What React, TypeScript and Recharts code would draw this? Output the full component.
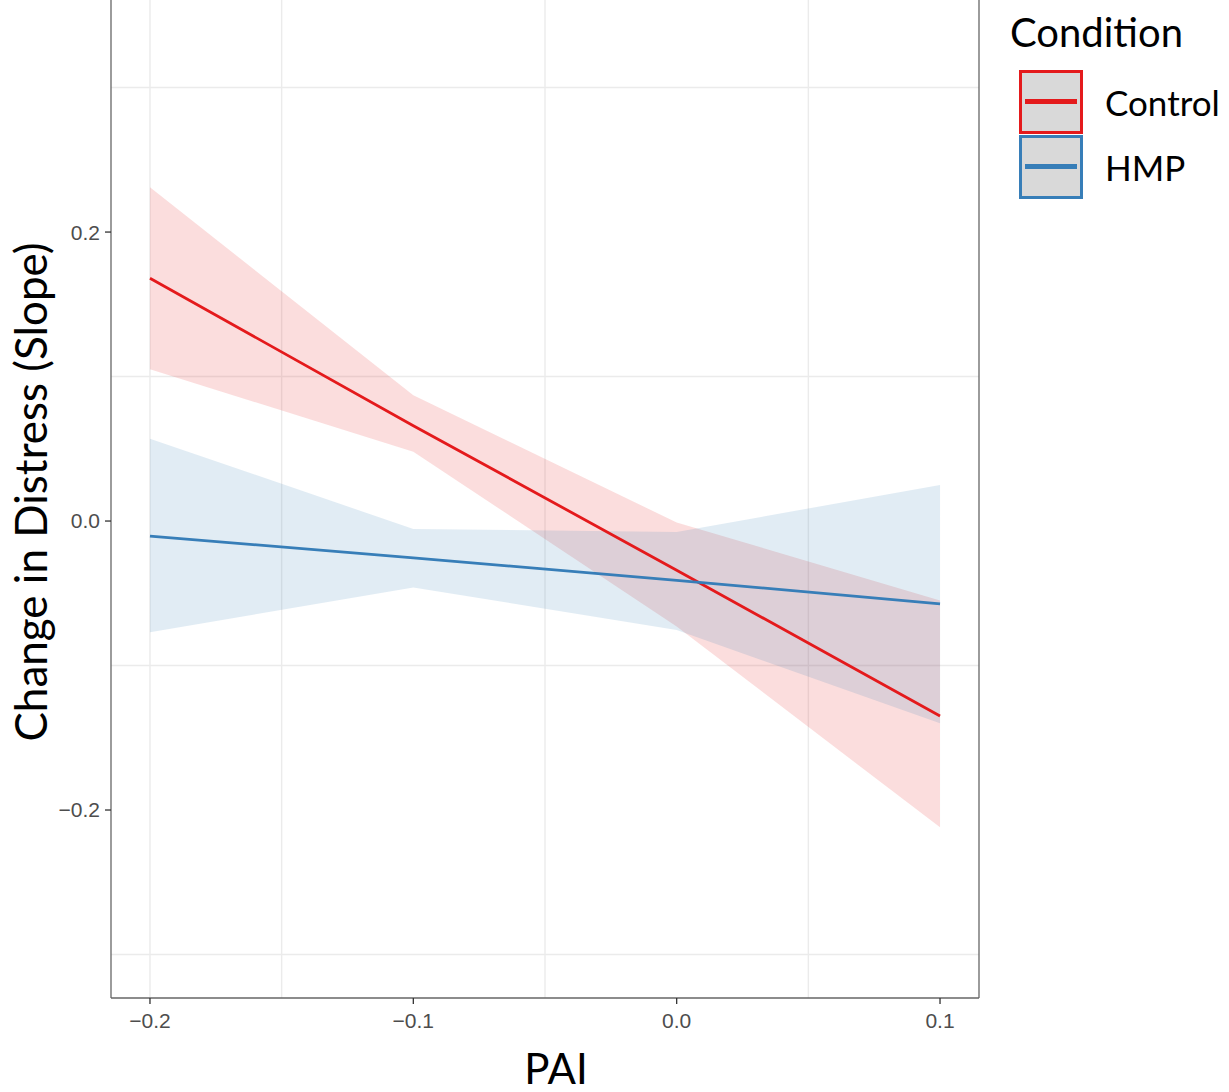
import React from "react";
import {
  ComposedChart,
  Line,
  Area,
  XAxis,
  YAxis,
  CartesianGrid,
  ReferenceLine,
} from "recharts";

// predicted slope by PAI, with 95% ribbons
const pai = [-0.2, -0.1, 0.0, 0.1];
const controlFit = [0.168, 0.066, -0.034, -0.135];
const controlLow = [0.105, 0.048, -0.073, -0.212];
const controlHigh = [0.231, 0.087, -0.001, -0.055];
const hmpFit = [-0.0104, -0.0255, -0.041, -0.0574];
const hmpLow = [-0.077, -0.046, -0.0754, -0.14];
const hmpHigh = [0.057, -0.0055, -0.0076, 0.025];

const xTicks = [-0.2, -0.1, 0.0, 0.1];
const xMinor = [-0.15, -0.05, 0.05];
const yTicks = [-0.2, 0.0, 0.2];
const yMinor = [-0.3, -0.1, 0.1, 0.3];

const X_DOMAIN = [-0.2148, 0.1148];
const Y_DOMAIN = [-0.3301, 0.3606];

const RED = "#e41a1c";
const BLUE = "#377eb8";
const TITLE_FONT = "Lato, 'Noto Sans', sans-serif";
const TICK_FONT = "'Liberation Sans', Arial, sans-serif";

const data = pai.map((x, i) => ({
  x,
  control: controlFit[i],
  controlBand: [controlLow[i], controlHigh[i]],
  hmp: hmpFit[i],
  hmpBand: [hmpLow[i], hmpHigh[i]],
}));

const fmt = (v: number) => {
  const s = Math.abs(v).toFixed(1);
  return v < -1e-9 ? "\u2212" + s : s;
};

const YLabel = (props: any) => {
  const { viewBox } = props;
  const cx = viewBox.x + 30;
  const cy = viewBox.y + viewBox.height / 2 - 7;
  return (
    <text
      x={cx}
      y={cy}
      transform={`rotate(-90, ${cx}, ${cy})`}
      textAnchor="middle"
      dominantBaseline="central"
      fontFamily={TITLE_FONT}
      fontSize={44}
      fill="#000"
    >
      Change in Distress (Slope)
    </text>
  );
};

const XLabel = (props: any) => {
  const { viewBox } = props;
  return (
    <text
      x={viewBox.x + viewBox.width / 2 + 11}
      y={viewBox.y + 86}
      textAnchor="middle"
      fontFamily={TITLE_FONT}
      fontSize={42}
      fill="#000"
    >
      PAI
    </text>
  );
};

const legendItems = [
  { label: "Control", color: RED },
  { label: "HMP", color: BLUE },
];

function ConditionLegend() {
  return (
    <div style={{ position: "absolute", left: 1010, top: 8, fontFamily: TITLE_FONT, whiteSpace: "nowrap" }}>
      <div style={{ fontSize: 40, lineHeight: "48px", color: "#000" }}>Condition</div>
      <div style={{ marginTop: 13 }}>
        {legendItems.map((it) => (
          <div key={it.label} style={{ display: "flex", alignItems: "center", height: 65 }}>
            <div
              style={{
                width: 58,
                height: 58,
                marginLeft: 9,
                border: `3px solid ${it.color}`,
                background: "#d9d9d9",
                display: "flex",
                alignItems: "center",
                justifyContent: "center",
                flexShrink: 0,
              }}
            >
              <div style={{ width: 52, height: 5, background: it.color }} />
            </div>
            <span style={{ fontSize: 35, marginLeft: 22, color: "#000" }}>{it.label}</span>
          </div>
        ))}
      </div>
    </div>
  );
}

export default function App() {
  return (
    <div style={{ position: "absolute", left: 0, top: 0, width: 1229, height: 1092, background: "#fff", overflow: "hidden" }}>
      <ComposedChart
        width={1229}
        height={1092}
        data={data}
        margin={{ top: 0, right: 250, bottom: 0, left: 0 }}
      >
        <CartesianGrid
          stroke="#ebebeb"
          strokeWidth={1.4}
          horizontalValues={[...yTicks, ...yMinor]}
          verticalValues={[...xTicks, ...xMinor]}
        />
        <XAxis
          dataKey="x"
          type="number"
          domain={X_DOMAIN}
          allowDataOverflow
          ticks={xTicks}
          tickFormatter={fmt}
          height={94}
          tickSize={6}
          tickMargin={9}
          axisLine={{ stroke: "#666", strokeWidth: 1.3 }}
          tickLine={{ stroke: "#333", strokeWidth: 1.3 }}
          tick={{ fill: "#4d4d4d", fontSize: 21, fontFamily: TICK_FONT }}
          label={<XLabel />}
        />
        <YAxis
          type="number"
          domain={Y_DOMAIN}
          allowDataOverflow
          ticks={yTicks}
          tickFormatter={fmt}
          width={111}
          tickSize={6}
          tickMargin={5}
          axisLine={{ stroke: "#666", strokeWidth: 1.3 }}
          tickLine={{ stroke: "#333", strokeWidth: 1.3 }}
          tick={{ fill: "#4d4d4d", fontSize: 21, fontFamily: TICK_FONT }}
          label={<YLabel />}
        />
        <ReferenceLine x={X_DOMAIN[1]} stroke="#666" strokeWidth={1.3} ifOverflow="visible" />
        <Line
          type="linear"
          dataKey="control"
          stroke={RED}
          strokeWidth={2.8}
          dot={false}
          activeDot={false}
          isAnimationActive={false}
        />
        <Line
          type="linear"
          dataKey="hmp"
          stroke={BLUE}
          strokeWidth={2.8}
          dot={false}
          activeDot={false}
          isAnimationActive={false}
        />
        <Area
          type="linear"
          dataKey="controlBand"
          stroke="none"
          fill={RED}
          fillOpacity={0.15}
          activeDot={false}
          isAnimationActive={false}
        />
        <Area
          type="linear"
          dataKey="hmpBand"
          stroke="none"
          fill={BLUE}
          fillOpacity={0.15}
          activeDot={false}
          isAnimationActive={false}
        />
      </ComposedChart>
      <ConditionLegend />
    </div>
  );
}
